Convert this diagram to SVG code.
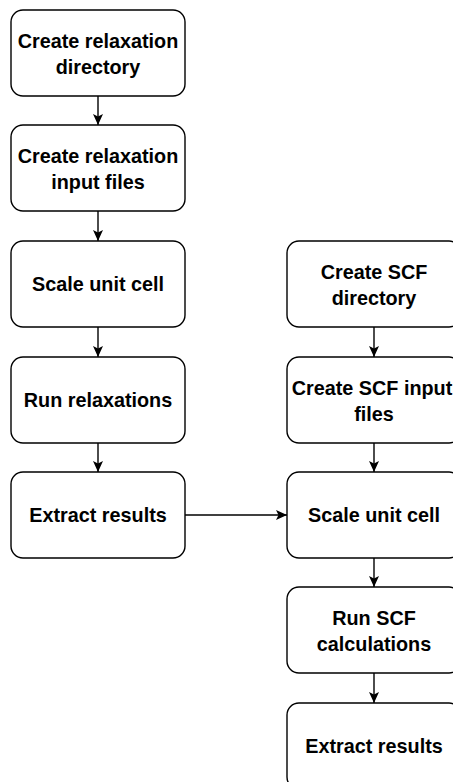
<svg xmlns="http://www.w3.org/2000/svg" width="453" height="782" viewBox="0 0 453 782">
  <style>
    .box { fill: #ffffff; stroke: #000000; stroke-width: 1.4; }
    .lbl { font-family: "Liberation Sans", Arial, sans-serif; font-weight: bold; font-size: 19.8px; fill: #000000; text-anchor: middle; }
    .edge { fill: none; stroke: #000000; stroke-width: 1.4; }
  </style>
  <defs>
    <marker id="arrow" markerUnits="userSpaceOnUse" markerWidth="12" markerHeight="11" viewBox="0 0 12 11" refX="11" refY="5.5" orient="auto">
      <path d="M 0 0.5 L 11 5.5 L 0 10.5 L 2.5 5.5 Z" fill="#000000"/>
    </marker>
  </defs>

  <rect width="453" height="782" fill="#ffffff"/>

  <!-- relaxation workflow (left column) -->
  <g id="relax-dir">
    <rect class="box" x="11" y="10" width="174" height="86" rx="12"/>
    <text class="lbl" x="98" y="48">Create relaxation</text>
    <text class="lbl" x="98" y="74">directory</text>
  </g>
  <g id="relax-input">
    <rect class="box" x="11" y="125" width="174" height="86" rx="12"/>
    <text class="lbl" x="98" y="163">Create relaxation</text>
    <text class="lbl" x="98" y="189">input files</text>
  </g>
  <g id="relax-scale">
    <rect class="box" x="11" y="241" width="174" height="86" rx="12"/>
    <text class="lbl" x="98" y="291">Scale unit cell</text>
  </g>
  <g id="relax-run">
    <rect class="box" x="11" y="357" width="174" height="86" rx="12"/>
    <text class="lbl" x="98" y="407">Run relaxations</text>
  </g>
  <g id="relax-extract">
    <rect class="box" x="11" y="472" width="174" height="86" rx="12"/>
    <text class="lbl" x="98" y="522">Extract results</text>
  </g>

  <!-- SCF workflow (right column) -->
  <g id="scf-dir">
    <rect class="box" x="287" y="241" width="174" height="86" rx="12"/>
    <text class="lbl" x="374" y="279">Create SCF</text>
    <text class="lbl" x="374" y="305">directory</text>
  </g>
  <g id="scf-input">
    <rect class="box" x="287" y="357" width="174" height="86" rx="12"/>
    <text class="lbl" x="372" y="395">Create SCF input</text>
    <text class="lbl" x="374" y="421">files</text>
  </g>
  <g id="scf-scale">
    <rect class="box" x="287" y="472" width="174" height="86" rx="12"/>
    <text class="lbl" x="374" y="522">Scale unit cell</text>
  </g>
  <g id="scf-run">
    <rect class="box" x="287" y="587" width="174" height="86" rx="12"/>
    <text class="lbl" x="374" y="625">Run SCF</text>
    <text class="lbl" x="374" y="651">calculations</text>
  </g>
  <g id="scf-extract">
    <rect class="box" x="287" y="703" width="174" height="86" rx="12"/>
    <text class="lbl" x="374" y="753">Extract results</text>
  </g>

  <!-- connectors -->
  <g id="edges">
    <path class="edge" d="M 98 96 L 98 125" marker-end="url(#arrow)"/>
    <path class="edge" d="M 98 211 L 98 241" marker-end="url(#arrow)"/>
    <path class="edge" d="M 98 327 L 98 357" marker-end="url(#arrow)"/>
    <path class="edge" d="M 98 443 L 98 472" marker-end="url(#arrow)"/>
    <path class="edge" d="M 185 515 L 287 515" marker-end="url(#arrow)"/>
    <path class="edge" d="M 374 327 L 374 357" marker-end="url(#arrow)"/>
    <path class="edge" d="M 374 443 L 374 472" marker-end="url(#arrow)"/>
    <path class="edge" d="M 374 558 L 374 587" marker-end="url(#arrow)"/>
    <path class="edge" d="M 374 673 L 374 703" marker-end="url(#arrow)"/>
  </g>
</svg>
